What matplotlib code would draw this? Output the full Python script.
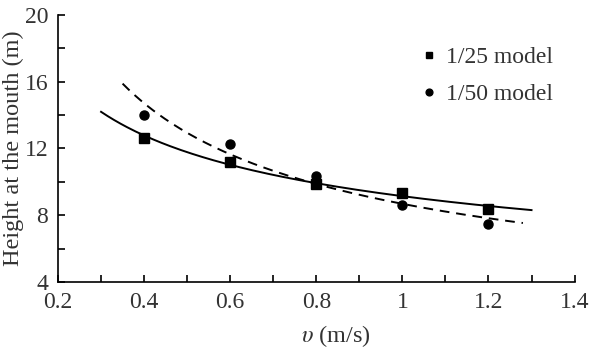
import numpy as np
import matplotlib
matplotlib.use("Agg")
import matplotlib.pyplot as plt
from matplotlib.ticker import MultipleLocator, FormatStrFormatter

velocity = [0.4, 0.6, 0.8, 1.0, 1.2]
height_25 = [12.63, 11.19, 9.87, 9.33, 8.38]
height_50 = [14.0, 12.27, 10.35, 8.62, 7.48]

plt.rcParams['font.family'] = ['Liberation Serif', 'DejaVu Serif']
plt.rcParams['mathtext.fontset'] = 'stix'

fig = plt.figure(figsize=(5.89, 3.48), dpi=100)
ax = fig.add_axes([0.0985, 0.19, 0.877, 0.767])

# power-law fits (y = a * x^b) of each series
def power_fit(x, y, x0, x1):
    b, lna = np.polyfit(np.log(x), np.log(y), 1)
    xs = np.linspace(x0, x1, 200)
    return xs, np.exp(lna) * xs ** b

xs, ys = power_fit(velocity, height_25, 0.3, 1.3)
ax.plot(xs, ys, color='black', lw=1.4)
xs, ys = power_fit(velocity, height_50, 0.35, 1.28)
ax.plot(xs, ys, color='black', lw=1.4, ls=(0, (5, 3.5)))

ax.plot(velocity, height_25, 's', color='black', ms=6.5, label='1/25 model')
ax.plot(velocity, height_50, 'o', color='black', ms=6.5, label='1/50 model')

ax.set_xlim(0.2, 1.4)
ax.set_ylim(4, 20)
ax.xaxis.set_major_locator(MultipleLocator(0.2))
ax.xaxis.set_minor_locator(MultipleLocator(0.1))
ax.yaxis.set_major_locator(MultipleLocator(4))
ax.yaxis.set_minor_locator(MultipleLocator(2))
ax.xaxis.set_major_formatter(FormatStrFormatter('%g'))
ax.tick_params(which='both', direction='in', length=5, width=1.2,
               labelsize=17, labelcolor='#333333', pad=7)
for s in ['top', 'right']:
    ax.spines[s].set_visible(False)
for s in ['left', 'bottom']:
    ax.spines[s].set_linewidth(1.2)

ax.set_xlabel(r'$\upsilon$ (m/s)', fontsize=17.5, color='#333333')
ax.set_ylabel('Height at the mouth (m)', fontsize=17.5, color='#333333')
ax.xaxis.set_label_coords(0.537, -0.155)
ax.yaxis.set_label_coords(-0.066, 0.5)

ax.legend(loc='upper right', bbox_to_anchor=(1.0, 0.96), frameon=False,
          fontsize=17, markerscale=0.75, handlelength=0.5, handletextpad=0.5,
          labelspacing=0.65, labelcolor='#333333')

fig.savefig('out.png', dpi=100)
